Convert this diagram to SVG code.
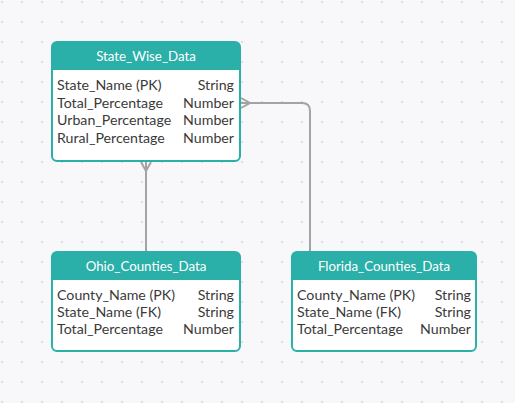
<svg xmlns="http://www.w3.org/2000/svg" width="515" height="403" viewBox="0 0 515 403">
<defs>
<pattern id="dots" x="0" y="0" width="20" height="20" patternUnits="userSpaceOnUse">
<circle cx="2" cy="2" r="1.1" fill="#d6d6dc"/>
</pattern>
</defs>
<style>
.box{fill:#ffffff;stroke:#2aafa9;stroke-width:2}
.hdr{fill:#2aafa9}
.title{font-family:Lato,"Liberation Sans",sans-serif;font-size:13.3px;fill:#ffffff;text-anchor:middle}
.f{font-family:Lato,"Liberation Sans",sans-serif;font-size:14.2px;fill:#3a3a3a}
.t{text-anchor:end}
.conn{fill:none;stroke:#a3a3a3;stroke-width:2}
</style>
<rect width="515" height="403" fill="#f8f8fa"/>
<rect width="515" height="403" fill="url(#dots)"/>
<g id="connectors">
<path class="conn" d="M146,251 V162"/>
<path class="conn" d="M141,162 L146,171 L151,162"/>
<path class="conn" d="M310,251 V111 Q310,103 302,103 H241"/>
<path class="conn" d="M241,98 L250,103 L241,108"/>
</g>
<g id="State_Wise_Data">
<rect class="box" x="52" y="42" width="188" height="119" rx="5"/>
<path class="hdr" d="M52,70 V47 Q52,42 57,42 H235 Q240,42 240,47 V70 Z"/>
<text class="title" x="146" y="61">State_Wise_Data</text>
<text class="f" x="57" y="90">State_Name (PK)</text><text class="f t" x="234" y="90">String</text>
<text class="f" x="57" y="108">Total_Percentage</text><text class="f t" x="234" y="108">Number</text>
<text class="f" x="57" y="125">Urban_Percentage</text><text class="f t" x="234" y="125">Number</text>
<text class="f" x="57" y="143">Rural_Percentage</text><text class="f t" x="234" y="143">Number</text>
</g>
<g id="Ohio_Counties_Data">
<rect class="box" x="52" y="252" width="188" height="99" rx="5"/>
<path class="hdr" d="M52,280 V257 Q52,252 57,252 H235 Q240,252 240,257 V280 Z"/>
<text class="title" x="146" y="271">Ohio_Counties_Data</text>
<text class="f" x="57" y="300">County_Name (PK)</text><text class="f t" x="234" y="300">String</text>
<text class="f" x="57" y="317">State_Name (FK)</text><text class="f t" x="234" y="317">String</text>
<text class="f" x="57" y="334">Total_Percentage</text><text class="f t" x="234" y="334">Number</text>
</g>
<g id="Florida_Counties_Data">
<rect class="box" x="292" y="252" width="184" height="99" rx="5"/>
<path class="hdr" d="M292,280 V257 Q292,252 297,252 H471 Q476,252 476,257 V280 Z"/>
<text class="title" x="384" y="271">Florida_Counties_Data</text>
<text class="f" x="297" y="300">County_Name (PK)</text><text class="f t" x="471" y="300">String</text>
<text class="f" x="297" y="317">State_Name (FK)</text><text class="f t" x="471" y="317">String</text>
<text class="f" x="297" y="334">Total_Percentage</text><text class="f t" x="471" y="334">Number</text>
</g>
</svg>
